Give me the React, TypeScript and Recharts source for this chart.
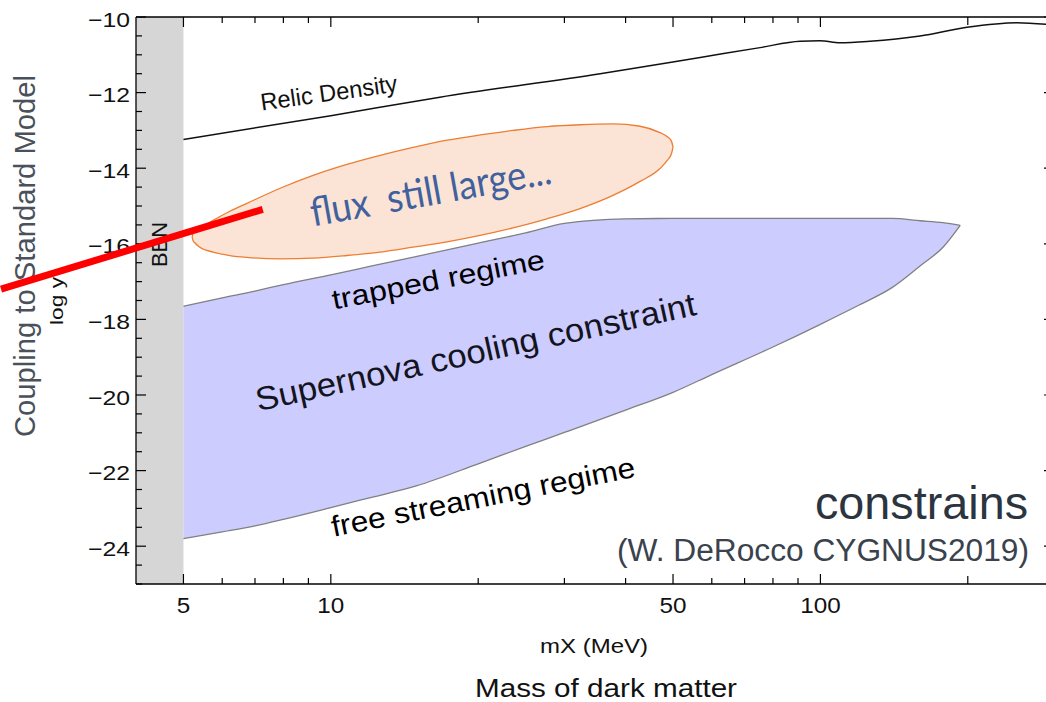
import React from 'react'
import {
  ComposedChart,
  Area,
  Line,
  XAxis,
  YAxis,
  ReferenceArea,
  ReferenceLine,
} from 'recharts'

// values: mass of dark matter mX (MeV) vs log y
const relicMass = [5, 10, 16.7, 35.5, 56.8, 75.3, 90.9, 99.8, 109.6, 126.3, 159.8, 199.3, 252.1, 300]
const relicCoupling = [-13.24, -12.61, -12.12, -11.5, -11.07, -10.81, -10.64, -10.63, -10.68, -10.64, -10.5, -10.27, -10.15, -10.21]

const snMass = [5, 6, 7, 8, 10, 12, 15, 20, 25, 30, 40, 50, 60, 80, 100, 120, 140, 160, 178, 193]
const snUpper = [-17.65, -17.43, -17.25, -17.08, -16.82, -16.6, -16.33, -15.98, -15.71, -15.46, -15.34, -15.33, -15.33, -15.33, -15.33, -15.33, -15.33, -15.39, -15.44, -15.51]
const snLower = [-23.8, -23.62, -23.46, -23.29, -22.98, -22.72, -22.4, -21.82, -21.36, -20.99, -20.4, -19.93, -19.46, -18.73, -18.13, -17.62, -17.16, -16.58, -16.09, -15.51]

const fluxMass = [5.21, 5.23, 5.28, 5.4, 5.75, 6.22, 6.74, 7.88, 9.2, 10.79, 12.61, 14.72, 17.27, 20.18, 23.57, 27.64, 32.28, 37.7, 42.82, 47.03, 48.61, 49.65, 50]
const fluxUpper = [-15.82, -15.73, -15.67, -15.59, -15.38, -15.14, -14.93, -14.53, -14.19, -13.9, -13.66, -13.45, -13.26, -13.12, -13.0, -12.9, -12.85, -12.83, -12.89, -13.06, -13.16, -13.29, -13.44]
const fluxLower = [-15.82, -15.91, -15.98, -16.09, -16.22, -16.31, -16.36, -16.4, -16.38, -16.31, -16.22, -16.09, -15.95, -15.78, -15.58, -15.34, -15.07, -14.72, -14.35, -14.01, -13.8, -13.61, -13.44]

const bbnMass = [4, 5]
const arrowMass = [2.12, 7.26]
const arrowCoupling = [-17.2, -15.09]

const xDomain = [4, 300]
const yDomain = [-25, -10]
const xTicks = [5, 6, 7, 8, 9, 10, 20, 30, 40, 50, 60, 70, 80, 90, 100, 200]
const xTickLabels = [5, 10, 50, 100]
const yTicks = [-25, -24.5, -24, -23.5, -23, -22.5, -22, -21.5, -21, -20.5, -20, -19.5, -19, -18.5, -18, -17.5, -17, -16.5, -16, -15.5, -15, -14.5, -14, -13.5, -13, -12.5, -12, -11.5, -11, -10.5, -10]
const yTickLabels = [-24, -22, -20, -18, -16, -14, -12, -10]

const relicData = relicMass.map((m, i) => ({ m, y: relicCoupling[i] }))
const snData = snMass.map((m, i) => ({ m, band: [snLower[i], snUpper[i]] }))
const fluxData = fluxMass.map((m, i) => ({ m, band: [fluxLower[i], fluxUpper[i]] }))

const W = 1070
const H = 702
const FONT = '"Liberation Sans", Arial, Helvetica, sans-serif'
const AXIS = '#000'

const BottomTick = ({ x, y, payload }: any) => {
  const v = payload.value
  const major = xTickLabels.includes(v)
  const len = major ? 10 : v === 200 ? 8 : 6
  return (
    <g>
      <line x1={x} x2={x} y1={y} y2={y - len} stroke={AXIS} strokeWidth={1.2} />
      {major && (
        <text
          x={x}
          y={y + 29}
          textAnchor="middle"
          fontFamily={FONT}
          fontSize={22}
          fill="#111"
          textLength={String(v).length * 13.5}
          lengthAdjust="spacingAndGlyphs"
        >
          {v}
        </text>
      )}
    </g>
  )
}

const TopTick = ({ x, y, payload }: any) => {
  const v = payload.value
  const len = xTickLabels.includes(v) ? 10 : v === 200 ? 8 : 6
  return <line x1={x} x2={x} y1={y} y2={y + len} stroke={AXIS} strokeWidth={1.2} />
}

const LeftTick = ({ x, y, payload }: any) => {
  const v = payload.value
  const major = yTickLabels.includes(v)
  return (
    <g>
      <line x1={x} x2={x + (major ? 10 : 6)} y1={y} y2={y} stroke={AXIS} strokeWidth={1.2} />
      {major && (
        <text
          x={x - 6}
          y={y + 2}
          textAnchor="end"
          dominantBaseline="central"
          fontFamily={FONT}
          fontSize={21}
          fill="#111"
          textLength={42}
          lengthAdjust="spacingAndGlyphs"
        >
          {`\u2212${Math.abs(v)}`}
        </text>
      )}
    </g>
  )
}

const RightTick = ({ x, y, payload }: any) => {
  const major = yTickLabels.includes(payload.value)
  return <line x1={x} x2={x - (major ? 10 : 6)} y1={y} y2={y} stroke={AXIS} strokeWidth={1.2} />
}

// rotated annotation text, anchored at the middle of its baseline
const Note = ({ x, y, angle = 0, size, len, color = '#111', family = FONT, anchor = 'middle', children }: any) => (
  <text
    x={x}
    y={y}
    textAnchor={anchor}
    fontFamily={family}
    fontSize={size}
    fill={color}
    textLength={len}
    lengthAdjust="spacingAndGlyphs"
    transform={angle ? `rotate(${angle} ${x} ${y})` : undefined}
    style={{ whiteSpace: 'pre' }}
  >
    {children}
  </text>
)

export default function App() {
  return (
    <div style={{ position: 'absolute', left: 0, top: 0, width: 1046, height: 702, overflow: 'hidden', background: '#fff' }}>
      <div style={{ position: 'absolute', left: 0, top: 0 }}>
        <ComposedChart width={W} height={H} margin={{ top: 7, right: 6, bottom: 88, left: 96 }}>
          <XAxis
            xAxisId="b"
            dataKey="m"
            type="number"
            scale="log"
            domain={xDomain}
            ticks={xTicks}
            interval={0}
            allowDataOverflow
            height={30}
            tickSize={0}
            tickMargin={0}
            tickLine={false}
            axisLine={{ stroke: AXIS, strokeWidth: 1.3 }}
            tick={BottomTick}
          />
          <XAxis
            xAxisId="t"
            orientation="top"
            dataKey="m"
            type="number"
            scale="log"
            domain={xDomain}
            ticks={xTicks}
            interval={0}
            allowDataOverflow
            height={10}
            tickSize={0}
            tickMargin={0}
            tickLine={false}
            axisLine={{ stroke: AXIS, strokeWidth: 1.3 }}
            tick={TopTick}
          />
          <YAxis
            yAxisId="l"
            type="number"
            domain={yDomain}
            ticks={yTicks}
            interval={0}
            allowDataOverflow
            width={40}
            tickSize={0}
            tickMargin={0}
            tickLine={false}
            axisLine={{ stroke: AXIS, strokeWidth: 1.3 }}
            tick={LeftTick}
          />
          <YAxis
            yAxisId="r"
            orientation="right"
            type="number"
            domain={yDomain}
            ticks={yTicks}
            interval={0}
            allowDataOverflow
            width={10}
            tickSize={0}
            tickMargin={0}
            tickLine={false}
            axisLine={{ stroke: AXIS, strokeWidth: 1.3 }}
            tick={RightTick}
          />
          <ReferenceArea
            xAxisId="b"
            yAxisId="l"
            x1={bbnMass[0]}
            x2={bbnMass[1]}
            fill="#d6d6d6"
            fillOpacity={1}
            stroke="none"
          />
          <Area
            xAxisId="b"
            yAxisId="l"
            data={snData}
            dataKey="band"
            type="monotone"
            fill="#ccccff"
            fillOpacity={1}
            stroke="#808080"
            strokeWidth={1.3}
            dot={false}
            activeDot={false}
            isAnimationActive={false}
          />
          <Area
            xAxisId="b"
            yAxisId="l"
            data={fluxData}
            dataKey="band"
            type="monotone"
            fill="#fbe4d5"
            fillOpacity={1}
            stroke="#ed7d31"
            strokeWidth={1.3}
            dot={false}
            activeDot={false}
            isAnimationActive={false}
          />
          <Line
            xAxisId="b"
            yAxisId="l"
            data={relicData}
            dataKey="y"
            type="monotone"
            stroke="#111"
            strokeWidth={1.5}
            dot={false}
            activeDot={false}
            isAnimationActive={false}
          />
        </ComposedChart>
      </div>

      <svg width={1046} height={702} style={{ position: 'absolute', left: 0, top: 0 }}>
        <Note x={35} y={256} angle={-90} size={29} len={362} color="#4a515b">Coupling to Standard Model</Note>
        <Note x={63} y={301} angle={-90} size={19} len={48} color="#111">log y</Note>
        <Note x={167} y={244.5} angle={-90} size={22} len={45} color="#111">BBN</Note>
        <Note x={330} y={101} angle={-8} size={24} len={138} color="#111">Relic Density</Note>
        <Note x={433} y={205} angle={-10.2} size={40} len={244} color="#41619e" family="Lato, 'Open Sans', sans-serif">{'flux  still large...'}</Note>
        <Note x={440} y={289} angle={-10.9} size={28} len={216} color="#000">trapped regime</Note>
        <Note x={478} y={363} angle={-12.4} size={33} len={450} color="#141420">Supernova cooling constraint</Note>
        <Note x={485} y={506.7} angle={-11.2} size={29} len={309} color="#000">free streaming regime</Note>
        <Note x={1028} y={519} size={46} len={213} anchor="end" color="#2c3440">constrains</Note>
        <Note x={1029} y={561} size={31} len={412} anchor="end" color="#3a424d">(W. DeRocco CYGNUS2019)</Note>
        <Note x={594} y={653} size={21} len={108} color="#111">mX (MeV)</Note>
        <Note x={606} y={697} size={25} len={262} color="#111">Mass of dark matter</Note>
      </svg>

      <div style={{ position: 'absolute', left: 0, top: 0 }}>
        <ComposedChart width={W} height={H} data={[]} margin={{ top: 17, right: 16, bottom: 118, left: 136 }}>
          <XAxis hide dataKey="m" type="number" scale="log" domain={xDomain} allowDataOverflow />
          <YAxis hide type="number" domain={yDomain} allowDataOverflow />
          <ReferenceLine
            segment={[
              { x: arrowMass[0], y: arrowCoupling[0] },
              { x: arrowMass[1], y: arrowCoupling[1] },
            ]}
            stroke="#ff0000"
            strokeWidth={7}
            ifOverflow="visible"
          />
        </ComposedChart>
      </div>
    </div>
  )
}
